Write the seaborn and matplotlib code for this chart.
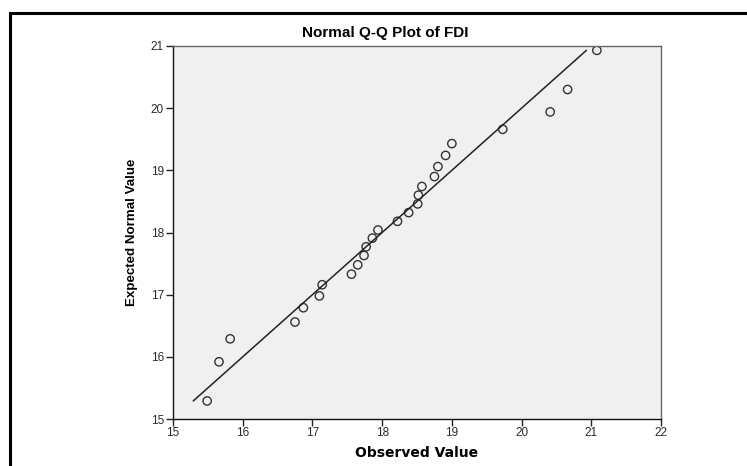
import matplotlib
matplotlib.use("Agg")
import matplotlib.pyplot as plt
import matplotlib.patches as patches
import seaborn as sns
import pandas as pd

observed = [15.49, 15.66, 15.82, 16.75, 16.87, 17.10, 17.14, 17.56, 17.65,
            17.74, 17.77, 17.86, 17.94, 18.22, 18.38, 18.51, 18.52, 18.57,
            18.75, 18.80, 18.91, 19.00, 19.73, 20.41, 20.66, 21.08]
expected = [15.29, 15.92, 16.29, 16.56, 16.79, 16.98, 17.16, 17.33, 17.48,
            17.63, 17.77, 17.91, 18.04, 18.18, 18.32, 18.46, 18.60, 18.74,
            18.90, 19.06, 19.24, 19.43, 19.66, 19.94, 20.30, 20.93]
line_ends = [15.29, 20.93]
x_ticks = [15, 16, 17, 18, 19, 20, 21, 22]
y_ticks = [15, 16, 17, 18, 19, 20, 21]

df = pd.DataFrame({"Observed": observed, "Expected": expected})
ref = pd.DataFrame({"x": line_ends, "y": line_ends})

sns.set_style("white")
plt.rcParams["font.family"] = ["Liberation Sans", "DejaVu Sans"]

fig = plt.figure(figsize=(7.47, 4.66), dpi=100)
ax = fig.add_axes([173 / 747, 1 - 419 / 466, 488 / 747, 373 / 466])
ax.set_facecolor("#f0f0f0")

sns.lineplot(data=ref, x="x", y="y", ax=ax, color="#222222", linewidth=1.1)
sns.scatterplot(data=df, x="Observed", y="Expected", ax=ax, s=36,
                facecolor="none", edgecolor="#333333", linewidth=1.0,
                marker="o")

ax.set_xlim(15, 22)
ax.set_ylim(15, 21)
ax.set_xticks(x_ticks)
ax.set_yticks(y_ticks)
ax.tick_params(axis="both", direction="out", length=5, width=1,
               bottom=True, left=True, color="#222222", labelsize=8.5,
               labelcolor="#2a2a2a", pad=1.5)
ax.tick_params(axis="x", pad=0.5)

for side in ["left", "bottom"]:
    ax.spines[side].set_color("#111111")
    ax.spines[side].set_linewidth(1.0)
for side in ["top", "right"]:
    ax.spines[side].set_color("#666666")
    ax.spines[side].set_linewidth(1.0)

ax.set_xlabel("Observed Value", fontsize=10, fontweight="bold",
              family="DejaVu Sans", color="black", labelpad=5)
ax.set_ylabel("Expected Normal Value", fontsize=9.6, fontweight="bold",
              color="black", labelpad=9)

fig.text(385 / 747, 1 - 33 / 466, "Normal Q-Q Plot of FDI", ha="center",
         va="center", fontsize=11, fontweight="bold", color="black")

# outer frame of the output viewer, clipped at right and bottom
frame = patches.Rectangle((10 / 747, -0.1), 1.2, 1.1 - 13 / 466,
                          transform=fig.transFigure, fill=False,
                          edgecolor="black", linewidth=2.2, clip_on=False)
fig.add_artist(frame)

fig.savefig("out.png", dpi=100)
